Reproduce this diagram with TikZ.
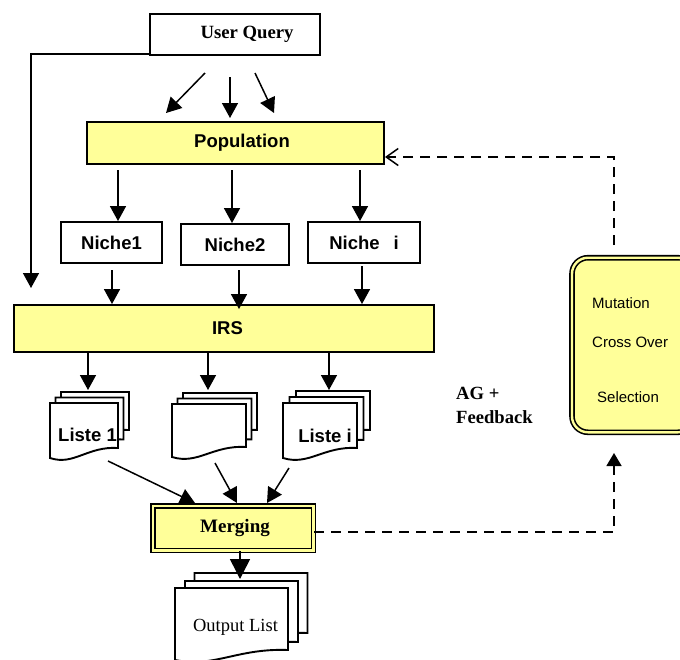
\documentclass[tikz,border=0pt]{standalone}
\usepackage{fontspec}
\setmainfont{Liberation Serif}
\setsansfont{Liberation Sans}
\usetikzlibrary{arrows.meta}
\definecolor{boxyellow}{RGB}{255,255,153}
\newcommand{\docsheet}[4]{%
  \pgfmathsetmacro\dxr{#1+#3}%
  \pgfmathsetmacro\dyb{#2+#4}%
  \pgfmathsetmacro\dyr{#2+#4-10}%
  \pgfmathsetmacro\dca{#1+0.55*#3}%
  \pgfmathsetmacro\dcb{#1+0.35*#3}%
  \filldraw[docline] (#1,#2) -- (\dxr,#2) -- (\dxr,\dyr) .. controls (\dca,\dyr-2) and (\dcb,\dyb+8) .. (#1,\dyb) -- cycle;%
}
\begin{document}
\begin{tikzpicture}[x=1pt,y=-1pt,
  box/.style={draw=black, line width=1.9pt, inner sep=0pt, font=\sffamily\bfseries\fontsize{18.5}{22}\selectfont},
  ybox/.style={box, fill=boxyellow},
  dblbox/.style={draw=black, line width=1.6pt, double=boxyellow, double distance=2.4pt, fill=boxyellow, inner sep=0pt},
  arr/.style={line width=1.5pt, -{Triangle[length=15pt,width=16pt]}},
  bigarr/.style={line width=1.5pt, -{Triangle[length=20pt,width=20pt]}},
  fbdash/.style={line width=1.5pt, dash pattern=on 10pt off 7pt},
  docline/.style={draw=black, fill=white, line width=1.9pt},
  sftext/.style={font=\sffamily\bfseries\fontsize{18.5}{22}\selectfont, inner sep=0pt},
  gatext/.style={font=\sffamily\fontsize{15}{18}\selectfont, inner sep=0pt, anchor=west}
]
\useasboundingbox (0,0) rectangle (680,659);
\clip (0,0) rectangle (680,659);

% main boxes
\node[box, font=\rmfamily\bfseries\fontsize{18.7}{22}\selectfont, minimum width=170pt, minimum height=41pt] (uq) at (235,34.5) {\hspace*{24pt}User Query};
\node[ybox, minimum width=297pt, minimum height=42pt] (pop) at (235.5,143) {\hspace*{13pt}Population};
\node[box, minimum width=101pt, minimum height=41pt] (n1) at (111.5,242.5) {Niche1};
\node[box, minimum width=108pt, minimum height=41pt] (n2) at (235,244.5) {Niche2};
\node[box, minimum width=112pt, minimum height=41pt] (n3) at (364,242.5) {Niche\hspace{0.75em}i};
\node[ybox, minimum width=420pt, minimum height=47pt] (irs) at (224,328.5) {\hspace*{7pt}IRS};

% document stacks
\docsheet{61}{392}{68}{48}
\docsheet{55.5}{397.5}{68}{52}
\docsheet{50}{403}{68}{55}
\docsheet{183}{393}{74}{47}
\docsheet{177.5}{398.5}{74}{51}
\docsheet{172}{404}{74}{53}
\docsheet{296}{391}{74}{49}
\docsheet{289.5}{397}{74}{53}
\docsheet{283}{403}{74}{55}
\docsheet{194.5}{573}{113}{70}
\docsheet{185}{581}{113}{71}
\docsheet{175}{588}{113}{72}
\node[sftext] (l1) at (87.5,435) {Liste 1};
\node[sftext] (l2) at (209,430) {};
\node[sftext] (l3) at (325,436) {Liste i};
\node[font=\rmfamily\fontsize{18.5}{22}\selectfont, inner sep=0pt] (out) at (235.5,627) {Output List};

% merging and GA box
\node[dblbox, minimum width=160.6pt, minimum height=44.6pt, font=\rmfamily\bfseries\fontsize{19}{22}\selectfont] (merge) at (233,528) {\hspace*{4pt}Merging};
\node[dblbox, rounded corners=16pt, minimum width=122pt, minimum height=174.6pt] (ga) at (633,345) {};
\node[gatext] (mut) at (592,303) {Mutation};
\node[gatext] (cross) at (592,342) {Cross Over};
\node[gatext] (sel) at (597,397) {Selection};
\node[font=\rmfamily\bfseries\fontsize{18.6}{24}\selectfont, inner sep=0pt, anchor=west, align=left] (ag) at (456,405.5) {AG +\\Feedback};

% connector end points
\foreach \nm/\x/\y in {q1/205/73, p1/166/113, q2/230/77, p2/230/118, q3/255/73, p3/274/113,
  a1/118/170, a2/232/170, a3/360/170, b1/112/270, b2/239/270, b3/362/266,
  c1/88/390, c2/208/390, c3/329/390,
  d1s/108/461, d1e/195/503, d2s/215/463, d2e/237/503, d3s/289/468, d3e/267/503,
  e1/240/579, leftend/31/288, f1/614/453, f2/614/245}
  \coordinate (\nm) at (\x,\y);

% connectors
\draw[arr] (q1) -- (p1);
\draw[arr] (q2) -- (p2);
\draw[arr] (q3) -- (p3);
\draw[arr] ([yshift=2pt]uq.south west) -| (leftend);
\draw[arr] (a1) -- (a1 |- n1.north);
\draw[arr] (a2) -- (a2 |- n2.north);
\draw[arr] (a3) -- (a3 |- n3.north);
\draw[arr] (b1) -- (b1 |- irs.north);
\draw[arr] (b2) -- ([yshift=-5pt]b2 |- irs.north);
\draw[arr] (b3) -- (b3 |- irs.north);
\draw[arr] (irs.south -| c1) -- (c1);
\draw[arr] (irs.south -| c2) -- (c2);
\draw[arr] (irs.south -| c3) -- (c3);
\draw[arr] (d1s) -- (d1e);
\draw[arr] (d2s) -- (d2e);
\draw[arr] (d3s) -- (d3e);
\draw[bigarr] (merge.south -| e1) -- (e1);
\draw[fbdash, -{Triangle[length=13pt,width=15pt]}] ([yshift=-4pt]merge.east) -| (f1);
\draw[fbdash, -{Straight Barb[length=12pt,width=17pt,line width=1.5pt]}] (f2) |- ([yshift=-14pt]pop.east);
\end{tikzpicture}
\end{document}
